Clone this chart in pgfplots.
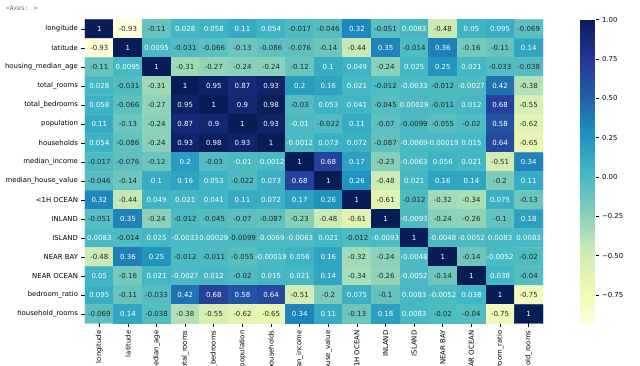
\documentclass[border=0pt]{standalone}
\usepackage{pgfplots}
\pgfplotsset{compat=1.18}
\usepackage{pgfplotstable}
\usepackage{fontspec}
\setmainfont{DejaVu Sans}
\newfontfamily\monofont{DejaVu Sans Mono}
\definecolor{txtdark}{HTML}{262626}
\pgfplotsset{colormap={ylgnbu}{rgb255=(255,255,217) rgb255=(237,248,177) rgb255=(199,233,180) rgb255=(127,205,187) rgb255=(65,182,196) rgb255=(29,145,192) rgb255=(34,94,168) rgb255=(37,52,148) rgb255=(8,29,88)}}
\pgfplotstableread[row sep=\\]{
x y v\\
0 15 1\\ 1 15 -0.93\\ 2 15 -0.11\\ 3 15 0.028\\ 4 15 0.058\\ 5 15 0.11\\ 6 15 0.054\\ 7 15 -0.017\\ 8 15 -0.046\\ 9 15 0.32\\ 10 15 -0.051\\ 11 15 0.0083\\ 12 15 -0.48\\ 13 15 0.05\\ 14 15 0.095\\ 15 15 -0.069\\
0 14 -0.93\\ 1 14 1\\ 2 14 0.0095\\ 3 14 -0.031\\ 4 14 -0.066\\ 5 14 -0.13\\ 6 14 -0.086\\ 7 14 -0.076\\ 8 14 -0.14\\ 9 14 -0.44\\ 10 14 0.35\\ 11 14 -0.014\\ 12 14 0.36\\ 13 14 -0.16\\ 14 14 -0.11\\ 15 14 0.14\\
0 13 -0.11\\ 1 13 0.0095\\ 2 13 1\\ 3 13 -0.31\\ 4 13 -0.27\\ 5 13 -0.24\\ 6 13 -0.24\\ 7 13 -0.12\\ 8 13 0.1\\ 9 13 0.049\\ 10 13 -0.24\\ 11 13 0.025\\ 12 13 0.25\\ 13 13 0.021\\ 14 13 -0.033\\ 15 13 -0.038\\
0 12 0.028\\ 1 12 -0.031\\ 2 12 -0.31\\ 3 12 1\\ 4 12 0.95\\ 5 12 0.87\\ 6 12 0.93\\ 7 12 0.2\\ 8 12 0.16\\ 9 12 0.021\\ 10 12 -0.012\\ 11 12 -0.0033\\ 12 12 -0.012\\ 13 12 -0.0027\\ 14 12 0.42\\ 15 12 -0.38\\
0 11 0.058\\ 1 11 -0.066\\ 2 11 -0.27\\ 3 11 0.95\\ 4 11 1\\ 5 11 0.9\\ 6 11 0.98\\ 7 11 -0.03\\ 8 11 0.053\\ 9 11 0.041\\ 10 11 -0.045\\ 11 11 0.00029\\ 12 11 -0.011\\ 13 11 0.012\\ 14 11 0.68\\ 15 11 -0.55\\
0 10 0.11\\ 1 10 -0.13\\ 2 10 -0.24\\ 3 10 0.87\\ 4 10 0.9\\ 5 10 1\\ 6 10 0.93\\ 7 10 -0.01\\ 8 10 -0.022\\ 9 10 0.11\\ 10 10 -0.07\\ 11 10 -0.0099\\ 12 10 -0.055\\ 13 10 -0.02\\ 14 10 0.58\\ 15 10 -0.62\\
0 9 0.054\\ 1 9 -0.086\\ 2 9 -0.24\\ 3 9 0.93\\ 4 9 0.98\\ 5 9 0.93\\ 6 9 1\\ 7 9 -0.0012\\ 8 9 0.073\\ 9 9 0.072\\ 10 9 -0.087\\ 11 9 -0.0069\\ 12 9 -0.00019\\ 13 9 0.015\\ 14 9 0.64\\ 15 9 -0.65\\
0 8 -0.017\\ 1 8 -0.076\\ 2 8 -0.12\\ 3 8 0.2\\ 4 8 -0.03\\ 5 8 -0.01\\ 6 8 -0.0012\\ 7 8 1\\ 8 8 0.68\\ 9 8 0.17\\ 10 8 -0.23\\ 11 8 -0.0063\\ 12 8 0.056\\ 13 8 0.021\\ 14 8 -0.51\\ 15 8 0.34\\
0 7 -0.046\\ 1 7 -0.14\\ 2 7 0.1\\ 3 7 0.16\\ 4 7 0.053\\ 5 7 -0.022\\ 6 7 0.073\\ 7 7 0.68\\ 8 7 1\\ 9 7 0.26\\ 10 7 -0.48\\ 11 7 0.021\\ 12 7 0.16\\ 13 7 0.14\\ 14 7 -0.2\\ 15 7 0.11\\
0 6 0.32\\ 1 6 -0.44\\ 2 6 0.049\\ 3 6 0.021\\ 4 6 0.041\\ 5 6 0.11\\ 6 6 0.072\\ 7 6 0.17\\ 8 6 0.26\\ 9 6 1\\ 10 6 -0.61\\ 11 6 -0.012\\ 12 6 -0.32\\ 13 6 -0.34\\ 14 6 0.075\\ 15 6 -0.13\\
0 5 -0.051\\ 1 5 0.35\\ 2 5 -0.24\\ 3 5 -0.012\\ 4 5 -0.045\\ 5 5 -0.07\\ 6 5 -0.087\\ 7 5 -0.23\\ 8 5 -0.48\\ 9 5 -0.61\\ 10 5 1\\ 11 5 -0.0093\\ 12 5 -0.24\\ 13 5 -0.26\\ 14 5 -0.1\\ 15 5 0.18\\
0 4 0.0083\\ 1 4 -0.014\\ 2 4 0.025\\ 3 4 -0.0033\\ 4 4 0.00029\\ 5 4 -0.0099\\ 6 4 -0.0069\\ 7 4 -0.0063\\ 8 4 0.021\\ 9 4 -0.012\\ 10 4 -0.0093\\ 11 4 1\\ 12 4 -0.0048\\ 13 4 -0.0052\\ 14 4 0.0083\\ 15 4 0.0083\\
0 3 -0.48\\ 1 3 0.36\\ 2 3 0.25\\ 3 3 -0.012\\ 4 3 -0.011\\ 5 3 -0.055\\ 6 3 -0.00019\\ 7 3 0.056\\ 8 3 0.16\\ 9 3 -0.32\\ 10 3 -0.24\\ 11 3 -0.0048\\ 12 3 1\\ 13 3 -0.14\\ 14 3 -0.0052\\ 15 3 -0.02\\
0 2 0.05\\ 1 2 -0.16\\ 2 2 0.021\\ 3 2 -0.0027\\ 4 2 0.012\\ 5 2 -0.02\\ 6 2 0.015\\ 7 2 0.021\\ 8 2 0.14\\ 9 2 -0.34\\ 10 2 -0.26\\ 11 2 -0.0052\\ 12 2 -0.14\\ 13 2 1\\ 14 2 0.038\\ 15 2 -0.04\\
0 1 0.095\\ 1 1 -0.11\\ 2 1 -0.033\\ 3 1 0.42\\ 4 1 0.68\\ 5 1 0.58\\ 6 1 0.64\\ 7 1 -0.51\\ 8 1 -0.2\\ 9 1 0.075\\ 10 1 -0.1\\ 11 1 0.0083\\ 12 1 -0.0052\\ 13 1 0.038\\ 14 1 1\\ 15 1 -0.75\\
0 0 -0.069\\ 1 0 0.14\\ 2 0 -0.038\\ 3 0 -0.38\\ 4 0 -0.55\\ 5 0 -0.62\\ 6 0 -0.65\\ 7 0 0.34\\ 8 0 0.11\\ 9 0 -0.13\\ 10 0 0.18\\ 11 0 0.0083\\ 12 0 -0.02\\ 13 0 -0.04\\ 14 0 -0.75\\ 15 0 1\\
}\corr
\pgfplotsset{
  annot/.style={only marks, mark=none, point meta=explicit symbolic,
    nodes near coords={\pgfplotspointmeta},
    nodes near coords style={anchor=center, text=#1, font=\fontsize{7}{8}\selectfont, inner sep=0pt}},
}
\begin{document}
\begin{tikzpicture}
\begin{axis}[
  at={(85pt,42.5pt)}, anchor=south west,
  scale only axis, width=458pt, height=304pt,
  xmin=-0.5, xmax=15.5, ymin=-0.5, ymax=15.5,
  enlargelimits=false,
  axis line style={draw=none},
  colormap name=ylgnbu,
  point meta min=-0.93, point meta max=1,
  xtick={0,...,15}, ytick={0,...,15},
  xticklabels={longitude,latitude,housing\_median\_age,total\_rooms,total\_bedrooms,population,households,median\_income,median\_house\_value,<1H OCEAN,INLAND,ISLAND,NEAR BAY,NEAR OCEAN,bedroom\_ratio,household\_rooms},
  yticklabels={household\_rooms,bedroom\_ratio,NEAR OCEAN,NEAR BAY,ISLAND,INLAND,<1H OCEAN,median\_house\_value,median\_income,households,population,total\_bedrooms,total\_rooms,housing\_median\_age,latitude,longitude},
  xtick pos=left, ytick pos=left,
  tick align=outside,
  major tick length=3.5pt,
  tick style={black, line width=0.7pt},
  xticklabel style={rotate=90, anchor=east, font=\fontsize{6.9}{8}\selectfont},
  yticklabel style={font=\fontsize{6.9}{8}\selectfont},
  colorbar,
  colorbar style={
    at={(parent axis.north east)}, anchor=north west, xshift=29pt,
    scale only axis, width=15pt, height=304pt,
    axis line style={draw=none},
    ytick={-0.75,-0.5,-0.25,0,0.25,0.5,0.75,1},
    yticklabels={−0.75,−0.50,−0.25,0.00,0.25,0.50,0.75,1.00},
    yticklabel style={font=\fontsize{6.9}{8}\selectfont, text=black},
    ytick pos=right, yticklabel pos=right,
    tick align=outside, major tick length=3pt,
    tick style={black, line width=0.6pt},
  },
]
\addplot[matrix plot*, mesh/cols=16, point meta=explicit] table[x=x, y=y, meta=v]{\corr};
\addplot[annot=white, restrict expr to domain={\thisrow{v}}{-0.0096:2}] table[x=x, y=y, meta=v]{\corr};
\addplot[annot=white, restrict expr to domain={\thisrow{v}}{-0.01005:-0.00995}] table[x=x, y=y, meta=v]{\corr};
\addplot[annot=txtdark, restrict expr to domain={\thisrow{v}}{-2:-0.0101}] table[x=x, y=y, meta=v]{\corr};
\addplot[annot=txtdark, restrict expr to domain={\thisrow{v}}{-0.00994:-0.0096}] table[x=x, y=y, meta=v]{\corr};
\end{axis}
\node[anchor=west, font=\monofont\fontsize{6.3}{7}\selectfont, text=black!60] at (2.5pt,358pt) {<Axes: >};
\pgfresetboundingbox
\useasboundingbox (0,0) rectangle (640pt,366pt);
\end{tikzpicture}
\end{document}
